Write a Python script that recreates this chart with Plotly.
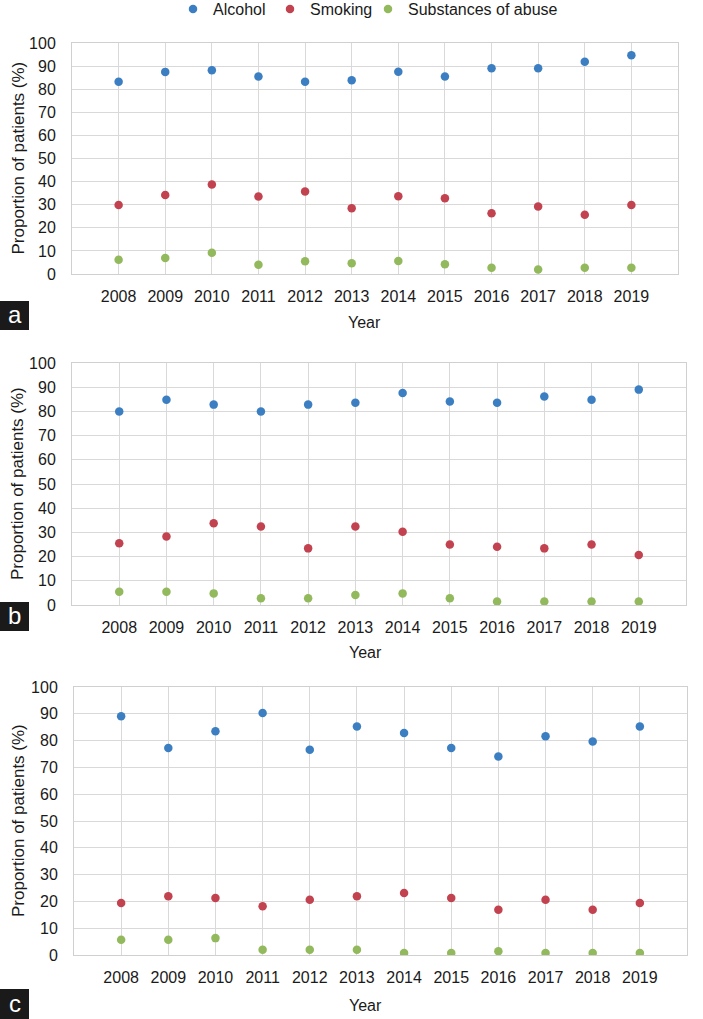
import plotly.graph_objects as go

years = [2008, 2009, 2010, 2011, 2012, 2013, 2014, 2015, 2016, 2017, 2018, 2019]
series_names = ["Alcohol", "Smoking", "Substances of abuse"]
colors = ["#3b7fc2", "#c2434f", "#92b95c"]

# Panel a
a_alcohol = [83.2, 87.5, 88.2, 85.5, 83.2, 83.9, 87.6, 85.5, 89.1, 89.1, 91.9, 94.7]
a_smoking = [29.9, 34.2, 38.7, 33.5, 35.7, 28.5, 33.7, 32.8, 26.3, 29.2, 25.6, 29.9]
a_subst = [6.2, 6.9, 9.2, 4.0, 5.5, 4.7, 5.6, 4.2, 2.7, 1.9, 2.7, 2.7]
# Panel b
b_alcohol = [80.0, 84.8, 82.8, 80.0, 82.8, 83.6, 87.6, 84.1, 83.6, 86.2, 84.8, 89.0]
b_smoking = [25.5, 28.3, 33.8, 32.4, 23.4, 32.4, 30.3, 25.0, 24.1, 23.4, 25.0, 20.7]
b_subst = [5.5, 5.5, 4.8, 2.8, 2.8, 4.1, 4.8, 2.8, 1.4, 1.4, 1.4, 1.4]
# Panel c
c_alcohol = [89.1, 77.2, 83.5, 90.3, 76.6, 85.3, 82.8, 77.2, 74.1, 81.6, 79.7, 85.3]
c_smoking = [19.4, 21.9, 21.3, 18.2, 20.6, 21.9, 23.1, 21.3, 16.9, 20.6, 16.9, 19.4]
c_subst = [5.7, 5.7, 6.3, 2.0, 2.0, 2.0, 0.7, 0.7, 1.4, 0.7, 0.7, 0.7]

panel_labels = ["a", "b", "c"]
y_title = "Proportion of patients (%)"
x_title = "Year"
y_ticks = [0, 10, 20, 30, 40, 50, 60, 70, 80, 90, 100]

W, H = 703, 1019
FONT = "Liberation Sans, Arial, sans-serif"

panels = [
    [a_alcohol, a_smoking, a_subst],
    [b_alcohol, b_smoking, b_subst],
    [c_alcohol, c_smoking, c_subst],
]
# pixel boxes: (left, right, top, bottom)
boxes = [(72, 678, 43, 274), (72, 686, 363, 605), (74, 687, 687, 955)]
year_title_pos = [(364, 323), (366, 652), (365, 1005)]
letter_boxes = [(0, 29, 301, 330), (0, 29, 602, 631), (0, 29, 989, 1019)]
legend_left_px = [173, 270, 368]
legend_ids = ["legend", "legend2", "legend3"]

fig = go.Figure()
layout = dict(
    width=W, height=H, margin=dict(l=0, r=0, t=0, b=0, autoexpand=False),
    paper_bgcolor="white", plot_bgcolor="white",
    font=dict(family=FONT, size=16, color="#1a1a1a"),
    showlegend=True,
)
for k, lid in enumerate(legend_ids):
    layout[lid] = dict(orientation="h", x=legend_left_px[k] / W, xanchor="left",
                       y=1 + 8 / H, yanchor="top",
                       font=dict(size=16, family=FONT), itemwidth=30,
                       bgcolor="rgba(0,0,0,0)")

annotations = []
shapes = []
for i, data in enumerate(panels):
    sfx = "" if i == 0 else str(i + 1)
    l, r, t, b = boxes[i]
    for j, vals in enumerate(data):
        fig.add_trace(go.Scatter(
            x=years, y=vals, mode="markers", name=series_names[j],
            marker=dict(color=colors[j], size=8.5),
            xaxis="x" + sfx, yaxis="y" + sfx,
            showlegend=(i == 0), legendgroup=series_names[j],
            legend=legend_ids[j],
        ))
    layout["xaxis" + sfx] = dict(
        domain=[l / W, r / W], anchor="y" + sfx, range=[2007, 2020],
        tickvals=years, ticktext=[str(y) for y in years],
        showgrid=True, gridcolor="#d9d9d9", gridwidth=1,
        showline=True, linecolor="#d0d0d0", linewidth=1, mirror=True,
        zeroline=False, ticks="", ticklabelstandoff=8,
        tickfont=dict(size=16, family=FONT, color="#1a1a1a"),
    )
    layout["yaxis" + sfx] = dict(
        domain=[1 - b / H, 1 - t / H], anchor="x" + sfx, range=[0, 100],
        tickvals=y_ticks,
        showgrid=True, gridcolor="#d9d9d9", gridwidth=1,
        showline=True, linecolor="#d0d0d0", linewidth=1, mirror=True,
        zeroline=False, ticks="", ticklabelstandoff=12,
        tickfont=dict(size=16, family=FONT, color="#1a1a1a"),
    )
    annotations.append(dict(
        text=y_title, textangle=-90, xref="paper", yref="paper",
        x=18 / W, y=1 - ((t + b) / 2) / H, xanchor="center", yanchor="middle",
        showarrow=False, font=dict(size=17, family=FONT, color="#1a1a1a"),
    ))
    yx, yy = year_title_pos[i]
    annotations.append(dict(
        text=x_title, xref="paper", yref="paper",
        x=yx / W, y=1 - yy / H, xanchor="center", yanchor="middle",
        showarrow=False, font=dict(size=16, family=FONT, color="#1a1a1a"),
    ))
    lx0, lx1, ly0, ly1 = letter_boxes[i]
    shapes.append(dict(type="rect", xref="paper", yref="paper",
                       x0=lx0 / W, x1=lx1 / W, y0=1 - ly1 / H, y1=1 - ly0 / H,
                       fillcolor="#1a1a1a", line=dict(width=0), layer="above"))
    annotations.append(dict(
        text=panel_labels[i], xref="paper", yref="paper",
        x=((lx0 + lx1) / 2) / W, y=1 - ((ly0 + ly1) / 2 - 1) / H,
        xanchor="center", yanchor="middle", showarrow=False,
        font=dict(size=24, family=FONT, color="white"),
    ))

layout["annotations"] = annotations
layout["shapes"] = shapes
fig.update_layout(**layout)
# remove the page's default 8px body margin so the figure fills the window
fig.write_html("out.html", config={"displayModeBar": False},
               post_script="document.body.style.margin='0px';")
